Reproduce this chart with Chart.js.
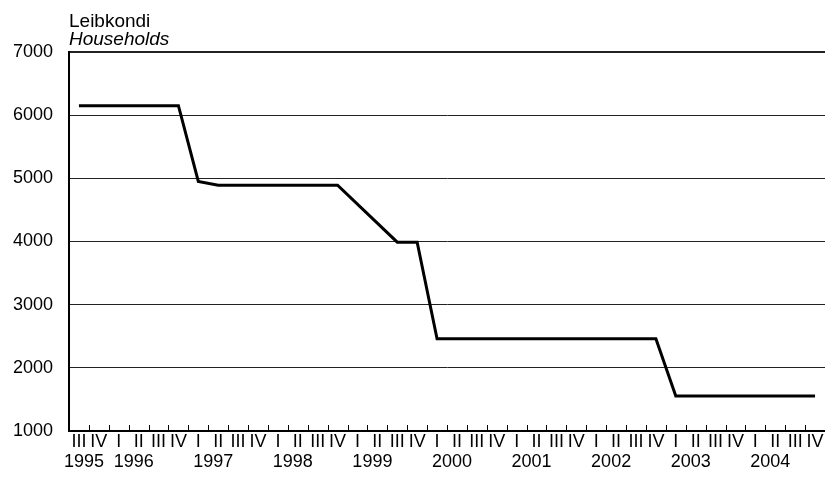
<!DOCTYPE html>
<html>
<head>
<meta charset="utf-8">
<script src="https://cdn.jsdelivr.net/npm/chart.js@4/dist/chart.umd.min.js"></script>
<style>
    html, body { margin: 0; padding: 0; background: #fff; overflow: hidden; }
    #wrap { width: 825px; height: 484px; }
</style>
</head>
<body>
<div id="wrap"><canvas id="leibkondid"></canvas></div>
<script>
// kvartalid 1995 III ... 2004 IV
const kvartalid = ['III', 'IV',
    'I', 'II', 'III', 'IV', 'I', 'II', 'III', 'IV', 'I', 'II', 'III', 'IV',
    'I', 'II', 'III', 'IV', 'I', 'II', 'III', 'IV', 'I', 'II', 'III', 'IV',
    'I', 'II', 'III', 'IV', 'I', 'II', 'III', 'IV', 'I', 'II', 'III', 'IV'];
const aastad = ['1995', '1996', '1997', '1998', '1999', '2000', '2001', '2002', '2003', '2004'];
// mitu kvartalit igast aastast on joonisel
const kvartaleidAastas = [2, 4, 4, 4, 4, 4, 4, 4, 4, 4];

// leibkondade arv kvartali lõpus (1999 I ja II puuduvad)
const leibkondi = [6150, 6150,
    6150, 6150, 6150, 6150,
    4950, 4890, 4890, 4890,
    4890, 4890, 4890, 4890,
    null, null, 3990, 3990,
    2460, 2460, 2460, 2460,
    2460, 2460, 2460, 2460,
    2460, 2460, 2460, 2460,
    1555, 1555, 1555, 1555,
    1555, 1555, 1555, 1555];

const yTicks = [1000, 2000, 3000, 4000, 5000, 6000, 7000];

const fontFamily = '"Liberation Sans", Arial, sans-serif';

// väikesed kriipsud x-telje kohal kvartalite vahel
const kriipsud = {
    id: 'kriipsud',
    afterDatasetsDraw(chart) {
        const x = chart.scales.x;
        const bottom = chart.chartArea.bottom;
        const c = chart.ctx;
        c.save();
        c.strokeStyle = '#000';
        c.lineWidth = 1;
        for (let i = 0; i < kvartalid.length - 1; i++) {
            const px = Math.round((x.getPixelForValue(i) + x.getPixelForValue(i + 1)) / 2) + 0.5;
            c.beginPath();
            c.moveTo(px, bottom);
            c.lineTo(px, bottom - 6);
            c.stroke();
        }
        c.restore();
    }
};

// aastad kvartalite alla: esimese kvartali ja aasta keskpaiga vahele
const aastaRida = {
    id: 'aastaRida',
    afterDraw(chart) {
        const x = chart.scales.x;
        const c = chart.ctx;
        c.save();
        c.fillStyle = '#000';
        c.font = '18px ' + fontFamily;
        c.textAlign = 'center';
        c.textBaseline = 'middle';
        let algus = 0;
        aastad.forEach((aasta, k) => {
            const n = kvartaleidAastas[k];
            const esimene = x.getPixelForValue(algus);
            const keskel = (esimene + x.getPixelForValue(algus + n - 1)) / 2;
            c.fillText(aasta, (esimene + keskel) / 2, x.bottom + 11);
            algus += n;
        });
        c.restore();
    }
};

// telje pealkiri kahes keeles
const pealkiri = {
    id: 'pealkiri',
    afterDraw(chart) {
        const c = chart.ctx;
        c.save();
        c.fillStyle = '#000';
        c.textAlign = 'left';
        c.textBaseline = 'alphabetic';
        c.font = '19px ' + fontFamily;
        c.fillText('Leibkondi', 69, 27);
        c.font = 'italic 19px ' + fontFamily;
        c.fillText('Households', 69, 45);
        c.restore();
    }
};

Chart.defaults.font.family = fontFamily;
Chart.defaults.font.size = 18;
Chart.defaults.color = '#000';

new Chart(document.getElementById('leibkondid'), {
    type: 'line',
    data: {
        labels: kvartalid,
        datasets: [{
            label: 'Leibkondi',
            data: leibkondi,
            borderColor: '#000',
            borderWidth: 3,
            pointRadius: 0,
            tension: 0,
            spanGaps: true,
            fill: false,
        }]
    },
    options: {
        responsive: true,
        maintainAspectRatio: false,
        animation: false,
        layout: {
            padding: { top: 52, right: 0, bottom: 33, left: 0 }
        },
        scales: {
            x: {
                type: 'category',
                offset: true,
                grid: { display: false, drawTicks: false },
                border: { display: true, color: '#000', width: 2 },
                ticks: { autoSkip: false, maxRotation: 0, padding: 0 },
                afterFit: (scale) => { scale.height = 20; },
            },
            y: {
                min: 1000,
                max: 7000,
                afterBuildTicks: (scale) => { scale.ticks = yTicks.map(v => ({ value: v })); },
                grid: {
                    drawTicks: false,
                    color: '#222',
                    lineWidth: (ctx) => ctx.tick && ctx.tick.value === 7000 ? 2 : 1,
                },
                border: { display: true, color: '#000', width: 2 },
                ticks: { padding: 16, callback: (v) => String(v) },
                afterFit: (scale) => { scale.width = 69; },
            }
        },
        plugins: {
            legend: { display: false },
            tooltip: { enabled: false },
        }
    },
    plugins: [kriipsud, aastaRida, pealkiri]
});
</script>
</body>
</html>
